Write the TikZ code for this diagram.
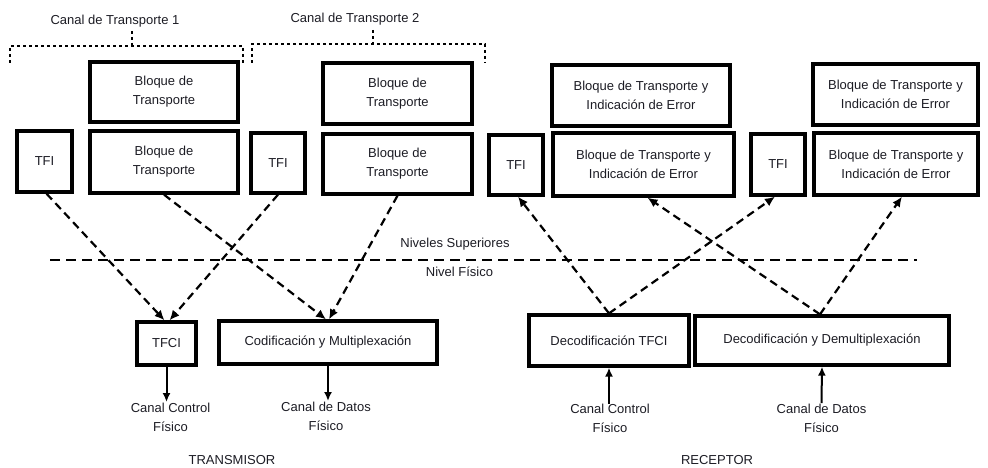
\documentclass[tikz,border=0pt]{standalone}
\usepackage{fontspec}
\setmainfont{Liberation Sans}
\usetikzlibrary{arrows.meta}
\definecolor{txt}{RGB}{28,28,36}
\begin{document}
\begin{tikzpicture}[x=1pt,y=-1pt,
  every node/.style={font=\fontsize{13}{19}\selectfont, text=txt},
  box/.style={draw=black, line width=3.3pt, align=center, inner sep=2pt},
  lbl/.style={align=center, inner sep=1pt},
  darrow/.style={line width=2.2pt, dash pattern=on 8pt off 5pt, -{Latex[length=10pt,width=9pt]}},
  sarrow/.style={line width=2pt, -{Latex[length=9pt,width=8pt]}},
  bracket/.style={line width=2.3pt, dash pattern=on 3pt off 3pt},
  sep/.style={line width=2.3pt, dash pattern=on 10pt off 6pt}]
\useasboundingbox (0,0) rectangle (988,468);

% top labels and brackets
\node[lbl] (ct1) at (115,21) {Canal de Transporte 1};
\node[lbl] (ct2) at (355,19) {Canal de Transporte 2};
\draw[bracket] (10,63) -- (10,46) -- (243,46) -- (243,63);
\draw[bracket] (132,31) -- (132,46);
\draw[bracket] (252,63) -- (252,44) -- (485,44) -- (485,63);
\draw[bracket] (373,30) -- (373,44);

% transmitter upper boxes
\node[box, minimum width=148, minimum height=60] (top1) at (164,92) {Bloque de\\Transporte};
\node[box, minimum width=148, minimum height=62] (bot1) at (164,162) {Bloque de\\Transporte};
\node[box, minimum width=55, minimum height=61] (tfi1) at (44.5,161.5) {TFI};
\node[box, minimum width=54, minimum height=60] (tfi2) at (278,163) {TFI};
\node[box, minimum width=149, minimum height=61] (top2) at (397.5,93.5) {Bloque de\\Transporte};
\node[box, minimum width=149, minimum height=60] (bot2) at (397.5,164) {Bloque de\\Transporte};

% receiver upper boxes
\node[box, minimum width=178, minimum height=61] (top3) at (641,95.5) {Bloque de Transporte y\\Indicación de Error};
\node[box, minimum width=181, minimum height=63] (bot3) at (643.5,164.5) {Bloque de Transporte y\\Indicación de Error};
\node[box, minimum width=54, minimum height=60] (tfi3) at (516,165) {TFI};
\node[box, minimum width=54, minimum height=61] (tfi4) at (778,164.5) {TFI};
\node[box, minimum width=165, minimum height=61] (top4) at (895.5,94.5) {Bloque de Transporte y\\Indicación de Error};
\node[box, minimum width=164, minimum height=62] (bot4) at (896,164) {Bloque de Transporte y\\Indicación de Error};

% level separator
\draw[sep] (50,260) -- (917,260);
\node[lbl] (sup) at (455,244) {Niveles Superiores};
\node[lbl] (fis) at (459.5,272) {Nivel Físico};

% transmitter lower boxes
\node[box, minimum width=59, minimum height=43] (tfci) at (166.5,343.5) {TFCI};
\node[box, minimum width=218, minimum height=43] (cod) at (328,342.5) {Codificación y Multiplexación};
\node[lbl] (cc1) at (170.5,417.5) {Canal Control\\Físico};
\node[lbl] (cd1) at (326,416.5) {Canal de Datos\\Físico};
\node[lbl] (tx) at (232,460) {TRANSMISOR};

% receiver lower boxes
\node[box, minimum width=160, minimum height=51] (dtfci) at (609,340.5) {Decodificación TFCI};
\node[box, minimum width=254, minimum height=49] (ddem) at (822,340.5) {Decodificación y Demultiplexación};
\node[lbl] (cc2) at (610,418.5) {Canal Control\\Físico};
\node[lbl] (cd2) at (821.5,418.5) {Canal de Datos\\Físico};
\node[lbl] (rx) at (717,460) {RECEPTOR};

% transmitter dashed arrows
\draw[darrow] ([xshift=2]tfi1.south) -- ([xshift=-2]tfci.north);
\draw[darrow] (tfi2.south) -- ([xshift=3]tfci.north);
\draw[darrow] (bot1.south) -- ([xshift=-2]cod.north);
\draw[darrow] (bot2.south) -- ([xshift=1]cod.north);

% transmitter solid arrows
\draw[sarrow] (tfci.south) -- (tfci.south |- cc1.north);
\draw[sarrow] (cod.south) -- (cod.south |- cd1.north);

% receiver dashed arrows
\draw[darrow] (dtfci.north) -- ([xshift=2]tfi3.south);
\draw[darrow] (dtfci.north) -- ([xshift=-3]tfi4.south);
\draw[darrow] ([xshift=-2]ddem.north) -- ([xshift=4]bot3.south);
\draw[darrow] ([xshift=-2]ddem.north) -- ([xshift=6]bot4.south);

% receiver solid arrows
\draw[sarrow] (cc2.north) -- (cc2.north -| dtfci.south) -- (dtfci.south);
\draw[sarrow] (cd2.north) -- (ddem.south);
\end{tikzpicture}
\end{document}
